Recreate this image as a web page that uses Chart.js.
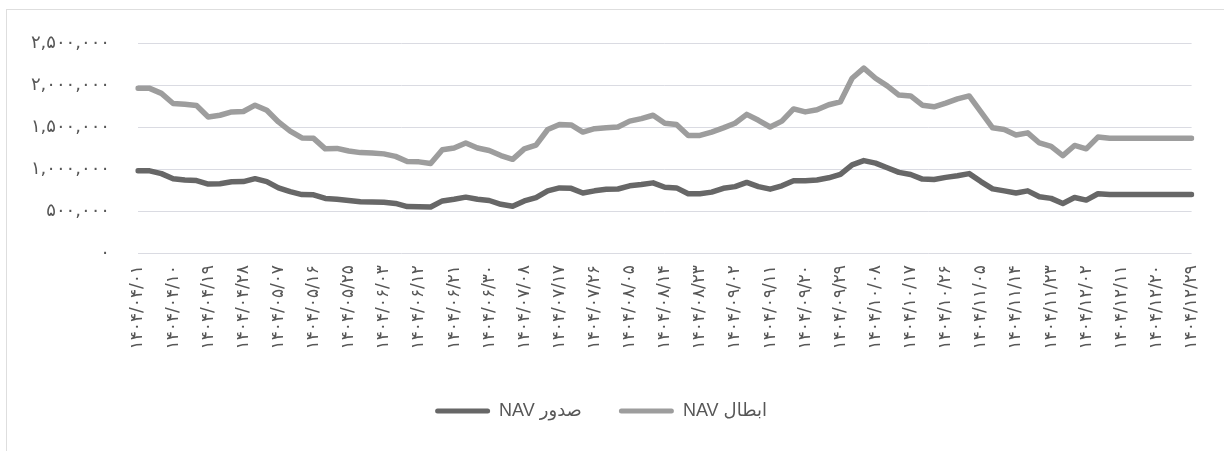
<!DOCTYPE html>
<html>
<head>
<meta charset="utf-8">
<script src="https://cdn.jsdelivr.net/npm/chart.js"></script>
<style>
html,body{margin:0;padding:0;background:#fff;}
#wrap{position:relative;width:1224px;height:451px;overflow:hidden;}
#frame{position:absolute;left:6px;top:9px;width:1240px;height:470px;border:1px solid #dedede;}
canvas{position:absolute;left:0;top:0;}
</style>
</head>
<body>
<div id="wrap"><div id="frame"></div><canvas id="navChart" width="1224" height="451"></canvas></div>
<script>
// date labels shown on the x axis (every 9th day)
var tickLabels = [
  '۱۴۰۴/۰۴/۰۱','۱۴۰۴/۰۴/۱۰','۱۴۰۴/۰۴/۱۹','۱۴۰۴/۰۴/۲۸','۱۴۰۴/۰۵/۰۷','۱۴۰۴/۰۵/۱۶',
  '۱۴۰۴/۰۵/۲۵','۱۴۰۴/۰۶/۰۳','۱۴۰۴/۰۶/۱۲','۱۴۰۴/۰۶/۲۱','۱۴۰۴/۰۶/۳۰','۱۴۰۴/۰۷/۰۸',
  '۱۴۰۴/۰۷/۱۷','۱۴۰۴/۰۷/۲۶','۱۴۰۴/۰۸/۰۵','۱۴۰۴/۰۸/۱۴','۱۴۰۴/۰۸/۲۳','۱۴۰۴/۰۹/۰۲',
  '۱۴۰۴/۰۹/۱۱','۱۴۰۴/۰۹/۲۰','۱۴۰۴/۰۹/۲۹','۱۴۰۴/۱۰/۰۸','۱۴۰۴/۱۰/۱۷','۱۴۰۴/۱۰/۲۶',
  '۱۴۰۴/۱۱/۰۵','۱۴۰۴/۱۱/۱۴','۱۴۰۴/۱۱/۲۳','۱۴۰۴/۱۲/۰۲','۱۴۰۴/۱۲/۱۱','۱۴۰۴/۱۲/۲۰',
  '۱۴۰۴/۱۲/۲۹'
];

// NAV ابطال (redemption), one value per 3 days
var redeemNav = [
  1960,1960,1900,1780,1770,1755,1620,1640,1680,1685,
  1760,1700,1560,1450,1370,1365,1240,1245,1215,1195,
  1190,1180,1150,1090,1085,1065,1230,1250,1310,1250,
  1220,1160,1115,1240,1285,1470,1530,1525,1440,1480,
  1490,1500,1570,1600,1640,1545,1530,1400,1400,1440,
  1490,1545,1650,1580,1500,1570,1715,1680,1705,1765,
  1800,2080,2200,2080,1990,1880,1870,1760,1740,1785,
  1835,1870,1680,1490,1470,1405,1430,1310,1270,1160,
  1280,1240,1380,1365,1365,1365,1365,1365,1365,1365,
  1365
];

// NAV صدور (issue)
var issueNav = [
  978,978,945,885,870,862,820,825,848,850,
  885,850,775,730,695,693,650,640,625,610,
  607,605,590,553,550,548,620,640,665,640,
  625,580,557,620,660,740,775,770,715,740,
  758,762,800,815,835,783,775,705,705,725,
  770,790,840,790,760,800,860,860,870,895,
  935,1050,1100,1070,1015,960,935,880,875,900,
  920,945,850,763,740,715,740,670,650,590,
  660,630,705,697,697,697,697,697,697,697,
  697
];

var yMax = 2500000;
var yStep = 500000;

function faDigits(s){
  return String(s).replace(/[0-9]/g, function(d){ return '۰۱۲۳۴۵۶۷۸۹'[d]; });
}

var labels = issueNav.map(function(v,i){ return i % 3 === 0 ? tickLabels[i/3] : ''; });

var textColor = '#575757';
var fontFam = "'DejaVu Sans', sans-serif";

const ctx = document.getElementById('navChart').getContext('2d');
new Chart(ctx, {
    type: 'line',
    data: {
        labels: labels,
        datasets: [
            {
                label: 'NAV صدور',
                data: issueNav.map(function(v){ return v * 1000; }),
                borderColor: '#676767',
                backgroundColor: '#676767',
                borderWidth: 5.5,
                pointRadius: 0,
                tension: 0,
                borderCapStyle: 'round',
                borderJoinStyle: 'round'
            },
            {
                label: 'NAV ابطال',
                data: redeemNav.map(function(v){ return v * 1000; }),
                borderColor: '#9d9d9d',
                backgroundColor: '#9d9d9d',
                borderWidth: 5.5,
                pointRadius: 0,
                tension: 0,
                borderCapStyle: 'round',
                borderJoinStyle: 'round'
            }
        ]
    },
    options: {
        responsive: false,
        animation: false,
        layout: { padding: { top: 43, right: 22, bottom: 21, left: 0 } },
        plugins: {
            tooltip: { enabled: false },
            legend: {
                position: 'bottom',
                labels: {
                    color: textColor,
                    font: { family: "'Liberation Sans', 'DejaVu Sans', sans-serif", size: 18 },
                    boxWidth: 55,
                    boxHeight: 5,
                    padding: 12,
                    generateLabels: function(chart){
                        var items = Chart.defaults.plugins.legend.labels.generateLabels(chart);
                        items.forEach(function(it, i){
                            it.lineWidth = 0;
                            it.borderRadius = 2.5;
                            // wider gap after the first entry, as in the original
                            if (i === 0) it.text = it.text + '     ';
                        });
                        return items;
                    }
                }
            }
        },
        scales: {
            x: {
                grid: { display: false, drawTicks: false },
                border: { display: false },
                ticks: {
                    autoSkip: false,
                    maxRotation: 90,
                    minRotation: 90,
                    padding: 12,
                    color: textColor,
                    font: { family: fontFam, size: 17 }
                },
                afterFit: function(scale){ scale.height = 137; }
            },
            y: {
                min: 0,
                max: yMax,
                grid: { color: '#dadbe2', lineWidth: 1, drawTicks: false },
                border: { display: false },
                ticks: {
                    stepSize: yStep,
                    padding: 28,
                    color: textColor,
                    font: { family: fontFam, size: 18 },
                    callback: function(v){ return faDigits(v.toLocaleString('en-US')); }
                },
                afterFit: function(scale){ scale.width = 138; }
            }
        }
    }
});
</script>
</body>
</html>
